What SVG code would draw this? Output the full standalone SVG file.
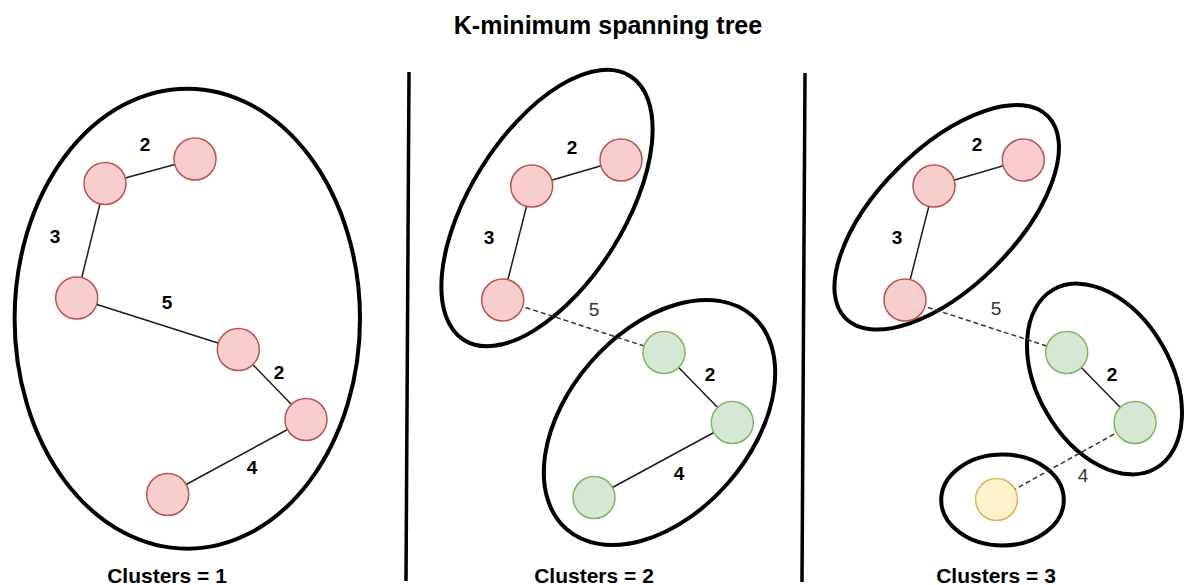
<svg xmlns="http://www.w3.org/2000/svg" width="1185" height="585" viewBox="0 0 1185 585">
  <style>
    .title { font-family: "Liberation Sans", Arial, sans-serif; font-weight: bold; font-size: 25px; fill: #000; text-anchor: middle; }
    .caption { font-family: "Liberation Sans", Arial, sans-serif; font-weight: bold; font-size: 21px; fill: #000; text-anchor: middle; }
    .w { font-family: "Liberation Sans", Arial, sans-serif; font-weight: bold; font-size: 19px; fill: #000; text-anchor: middle; }
    .wcut { font-family: "Liberation Sans", Arial, sans-serif; font-size: 19px; fill: #333; text-anchor: middle; }
    .cluster { fill: none; stroke: #000; stroke-width: 4; }
    .divider { stroke: #000; stroke-width: 3.5; }
    .edge { stroke: #1a1a1a; stroke-width: 1.5; fill: none; }
    .cut { stroke: #333; stroke-width: 1.5; stroke-dasharray: 5 3; fill: none; }
    .red { fill: #f8cecc; stroke: #b85450; stroke-width: 1.5; }
    .green { fill: #d5e8d4; stroke: #82b366; stroke-width: 1.5; }
    .yellow { fill: #fff2cc; stroke: #d6b656; stroke-width: 1.5; }
  </style>

  <rect width="1185" height="585" fill="#fff"/>

  <text class="title" x="608" y="34">K-minimum spanning tree</text>

  <!-- panel dividers -->
  <line class="divider" x1="409" y1="72" x2="406" y2="581"/>
  <line class="divider" x1="805" y1="73" x2="802" y2="582"/>

  <!-- cluster outlines -->
  <g id="clusters">
    <ellipse id="k1-all" class="cluster" cx="187.3" cy="318.7" rx="172.7" ry="230"/>
    <ellipse id="k2-red" class="cluster" cx="0" cy="0" rx="156" ry="77" transform="translate(547 208) rotate(-57.8)"/>
    <ellipse id="k2-green" class="cluster" cx="0" cy="0" rx="141.5" ry="91.5" transform="translate(659.5 422.5) rotate(-49)"/>
    <ellipse id="k3-red" class="cluster" cx="0" cy="0" rx="143" ry="69" transform="translate(946.7 217.3) rotate(-45)"/>
    <ellipse id="k3-green" class="cluster" cx="0" cy="0" rx="103" ry="67" transform="translate(1104.5 379) rotate(60.2)"/>
    <ellipse id="k3-yellow" class="cluster" cx="1002.5" cy="500" rx="61.3" ry="45.5"/>
  </g>

  <!-- tree edges -->
  <g id="connectors">
    <line class="edge" x1="105" y1="183.5" x2="195" y2="159"/>
    <line class="edge" x1="105" y1="183.5" x2="76.7" y2="298"/>
    <line class="edge" x1="76.7" y1="298" x2="238.3" y2="349.5"/>
    <line class="edge" x1="238.3" y1="349.5" x2="306" y2="419.5"/>
    <line class="edge" x1="306" y1="419.5" x2="167.7" y2="494.5"/>

    <line class="edge" x1="531.7" y1="186" x2="621" y2="160"/>
    <line class="edge" x1="531.7" y1="186" x2="502.7" y2="300"/>
    <line class="cut" x1="502.7" y1="300" x2="664" y2="352.5"/>
    <line class="edge" x1="664" y1="352.5" x2="732.3" y2="422.5"/>
    <line class="edge" x1="732.3" y1="422.5" x2="594" y2="497.5"/>

    <line class="edge" x1="934" y1="186" x2="1023.3" y2="160"/>
    <line class="edge" x1="934" y1="186" x2="905" y2="300"/>
    <line class="cut" x1="905" y1="300" x2="1066.7" y2="352.5"/>
    <line class="edge" x1="1066.7" y1="352.5" x2="1135" y2="422.5"/>
    <line class="cut" x1="1135" y1="422.5" x2="996.5" y2="499.5"/>
  </g>

  <!-- edge weights -->
  <g id="weights">
    <text class="w" x="145" y="151">2</text>
    <text class="w" x="55" y="243">3</text>
    <text class="w" x="167" y="309">5</text>
    <text class="w" x="279" y="379">2</text>
    <text class="w" x="252" y="474">4</text>

    <text class="w" x="572" y="154">2</text>
    <text class="w" x="489" y="244">3</text>
    <text class="wcut" x="594" y="316">5</text>
    <text class="w" x="710" y="381">2</text>
    <text class="w" x="679" y="480">4</text>

    <text class="w" x="977" y="151">2</text>
    <text class="w" x="897" y="244">3</text>
    <text class="wcut" x="996" y="315">5</text>
    <text class="w" x="1112" y="381">2</text>
    <text class="wcut" x="1083" y="482">4</text>
  </g>

  <!-- vertices, one cluster -->
  <g id="n1a"><circle class="red" cx="195" cy="159" r="21"/></g>
  <g id="n1b"><circle class="red" cx="105" cy="183.5" r="21"/></g>
  <g id="n1c"><circle class="red" cx="76.7" cy="298" r="21"/></g>
  <g id="n1d"><circle class="red" cx="238.3" cy="349.5" r="21"/></g>
  <g id="n1e"><circle class="red" cx="306" cy="419.5" r="21"/></g>
  <g id="n1f"><circle class="red" cx="167.7" cy="494.5" r="21"/></g>

  <!-- vertices, two clusters -->
  <g id="n2a"><circle class="red" cx="621" cy="160" r="21"/></g>
  <g id="n2b"><circle class="red" cx="531.7" cy="186" r="21"/></g>
  <g id="n2c"><circle class="red" cx="502.7" cy="300" r="21"/></g>
  <g id="n2d"><circle class="green" cx="664" cy="352.5" r="21"/></g>
  <g id="n2e"><circle class="green" cx="732.3" cy="422.5" r="21"/></g>
  <g id="n2f"><circle class="green" cx="594" cy="497.5" r="21"/></g>

  <!-- vertices, three clusters -->
  <g id="n3a"><circle class="red" cx="1023.3" cy="160" r="21"/></g>
  <g id="n3b"><circle class="red" cx="934" cy="186" r="21"/></g>
  <g id="n3c"><circle class="red" cx="905" cy="300" r="21"/></g>
  <g id="n3d"><circle class="green" cx="1066.7" cy="352.5" r="21"/></g>
  <g id="n3e"><circle class="green" cx="1135" cy="422.5" r="21"/></g>
  <g id="n3f"><circle class="yellow" cx="996.5" cy="499.5" r="21"/></g>

  <!-- captions -->
  <text class="caption" x="167" y="583">Clusters = 1</text>
  <text class="caption" x="594" y="583">Clusters = 2</text>
  <text class="caption" x="996" y="583">Clusters = 3</text>
</svg>
